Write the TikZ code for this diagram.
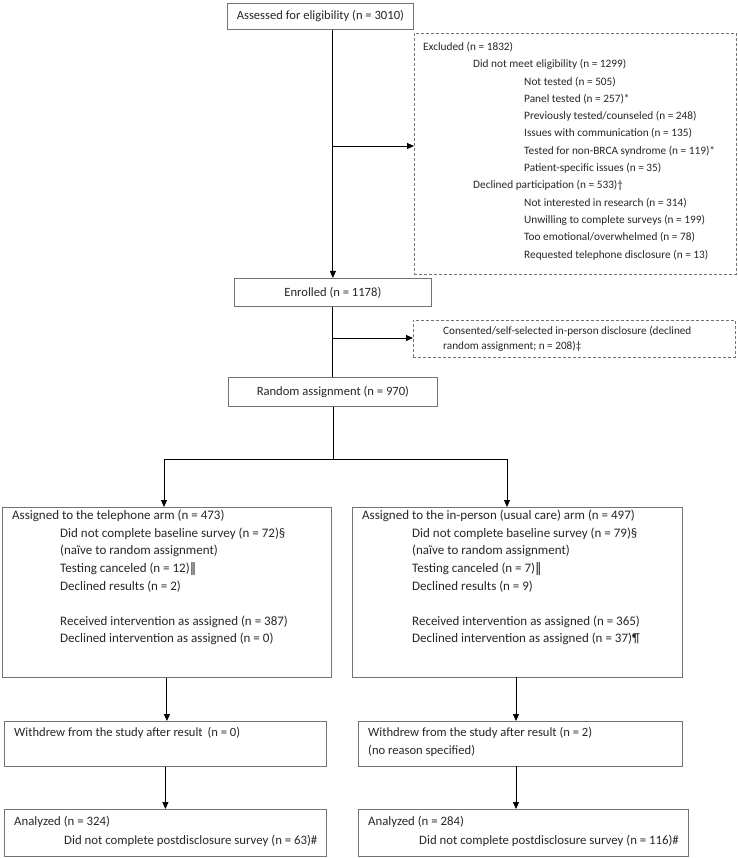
\documentclass[tikz,border=0pt]{standalone}
\usepackage{fontspec}
\setmainfont{Carlito}
\newfontfamily\barfont{DejaVu Sans}
\usetikzlibrary{arrows.meta}

\begin{document}
\begin{tikzpicture}[x=1pt, y=-1pt,
  box/.style={draw=black!55, line width=0.8pt, inner sep=0pt, anchor=north west},
  dbox/.style={box, dashed, dash pattern=on 3pt off 2pt},
  txt/.style={anchor=north west, inner sep=0pt, align=left, text=black!85,
    font=\fontsize{13}{17.6}\selectfont},
  arr/.style={line width=0.9pt, -{Triangle[length=7pt,width=6pt]}},
  ln/.style={line width=0.9pt}]
\useasboundingbox (0,0) rectangle (737,858);

% top of the chart
\node[box, minimum width=186, minimum height=26, txt, anchor=north west,
  align=center, font=\fontsize{12.6}{15}\selectfont] (assess) at (227,3) {Assessed for eligibility (n = 3010)};
\node[box, minimum width=197, minimum height=28, txt, anchor=north west,
  align=center, font=\fontsize{12.6}{15}\selectfont] (enrolled) at (234,278) {Enrolled (n = 1178)};
\node[box, minimum width=209, minimum height=29, txt, anchor=north west,
  align=center, font=\fontsize{12.6}{15}\selectfont] (random) at (228,377) {Random assignment (n = 970)};

\node[dbox, minimum width=322, minimum height=241] (excl) at (414,33) {};
\node[txt, font=\fontsize{11.3}{17.3}\selectfont] (exclt) at ([shift={(9,9)}]excl.north west)
  {Excluded (n = 1832)\\
   \hspace*{50pt}Did not meet eligibility (n = 1299)\\
   \hspace*{101pt}Not tested (n = 505)\\
   \hspace*{101pt}Panel tested (n = 257)*\\
   \hspace*{101pt}Previously tested/counseled (n = 248)\\
   \hspace*{101pt}Issues with communication (n = 135)\\
   \hspace*{101pt}Tested for non-BRCA syndrome (n = 119)*\\
   \hspace*{101pt}Patient-specific issues (n = 35)\\
   \hspace*{50pt}Declined participation (n = 533)†\\
   \hspace*{101pt}Not interested in research (n = 314)\\
   \hspace*{101pt}Unwilling to complete surveys (n = 199)\\
   \hspace*{101pt}Too emotional/overwhelmed (n = 78)\\
   \hspace*{101pt}Requested telephone disclosure (n = 13)};

\node[dbox, minimum width=322, minimum height=37] (consent) at (413,320) {};
\node[txt, font=\fontsize{11.2}{15}\selectfont] (consentt) at ([shift={(30,6)}]consent.north west)
  {Consented/self-selected in-person disclosure (declined\\
   random assignment; n = 208)‡};

% the two arms
\node[box, minimum width=329, minimum height=170] (telarm) at (2,507) {};
\node[txt] (telarmt) at ([shift={(10,3)}]telarm.north west)
  {Assigned to the telephone arm (n = 473)\\
   \hspace*{48pt}Did not complete baseline survey (n = 72)§\\
   \hspace*{48pt}(naïve to random assignment)\\
   \hspace*{48pt}Testing canceled (n = 12){\barfont ‖}\\
   \hspace*{48pt}Declined results (n = 2)\\[17.6pt]
   \hspace*{48pt}Received intervention as assigned (n = 387)\\
   \hspace*{48pt}Declined intervention as assigned (n = 0)};

\node[box, minimum width=330, minimum height=170] (inarm) at (352,507) {};
\node[txt] (inarmt) at ([shift={(10,3)}]inarm.north west)
  {Assigned to the in-person (usual care) arm (n = 497)\\
   \hspace*{50pt}Did not complete baseline survey (n = 79)§\\
   \hspace*{50pt}(naïve to random assignment)\\
   \hspace*{50pt}Testing canceled (n = 7){\barfont ‖}\\
   \hspace*{50pt}Declined results (n = 9)\\[17.6pt]
   \hspace*{50pt}Received intervention as assigned (n = 365)\\
   \hspace*{50pt}Declined intervention as assigned (n = 37)¶};

\node[box, minimum width=322, minimum height=45] (telwd) at (4,721) {};
\node[txt, font=\fontsize{12.6}{18}\selectfont] (telwdt) at ([shift={(10,6)}]telwd.north west)
  {Withdrew from the study after result\hspace{2pt} (n = 0)};
\node[box, minimum width=324, minimum height=45] (inwd) at (358,721) {};
\node[txt, font=\fontsize{12.6}{18}\selectfont] (inwdt) at ([shift={(10,6)}]inwd.north west)
  {Withdrew from the study after result (n = 2)\\
   (no reason specified)};

\node[box, minimum width=322, minimum height=47] (telan) at (4,809) {};
\node[txt, font=\fontsize{12.8}{19}\selectfont] (telant) at ([shift={(10,7)}]telan.north west)
  {Analyzed (n = 324)\\
   \hspace*{50pt}Did not complete postdisclosure survey (n = 63)\#};
\node[box, minimum width=330, minimum height=47] (inan) at (358,809) {};
\node[txt, font=\fontsize{12.8}{19}\selectfont] (inant) at ([shift={(10,7)}]inan.north west)
  {Analyzed (n = 284)\\
   \hspace*{51pt}Did not complete postdisclosure survey (n = 116)\#};

% connectors
\coordinate (j1) at (333,146);
\coordinate (j2) at (333,338);
\coordinate (split) at (333,459);
\draw[arr] (assess.south -| enrolled.north) -- (enrolled.north);
\draw[arr] (j1) -- (j1 -| excl.west);
\draw[ln] (enrolled.south) -- (enrolled.south |- random.north);
\draw[arr] (j2) -- (j2 -| consent.west);
\draw[ln] (random.south -| split) -- (split);
\draw[arr] (split) -| (164,507);
\draw[arr] (split) -| (507,507);
\draw[arr] (telarm.south) -- (telarm.south |- telwd.north);
\draw[arr] (516,677) -- (516,721);
\draw[arr] (telwd.south) -- (telwd.south |- telan.north);
\draw[arr] (516,766) -- (516,809);
\end{tikzpicture}
\end{document}
